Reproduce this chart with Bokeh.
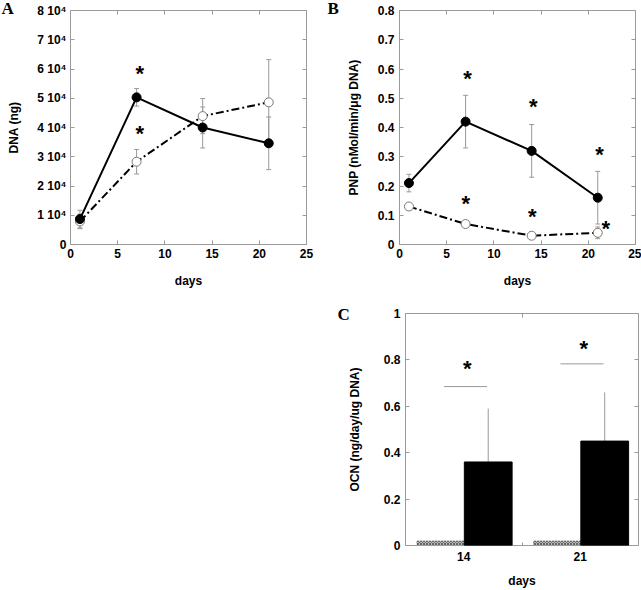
from bokeh.plotting import figure
from bokeh.models import (ColumnDataSource, Whisker, TeeHead, LinearAxis, FixedTicker,
                          Range1d, Spacer)
from bokeh.layouts import column, row
from bokeh.embed import file_html
from bokeh.resources import INLINE
from bokeh.core.properties import value

# ---------------- data ----------------
days = [1, 7, 14, 21]

dna_filled = [8700, 50300, 40000, 34600]
dna_filled_err = [3000, 3000, 7000, 9000]
dna_open = [7900, 28300, 43900, 48600]
dna_open_err = [2500, 4200, 6000, 14600]
dna_star_days = [7.34, 7.34]
dna_star_vals = [59300, 38600]
dna_ticks = [0, 10000, 20000, 30000, 40000, 50000, 60000, 70000, 80000]
dna_tick_labels = ["0", "1 10\u2074", "2 10\u2074", "3 10\u2074", "4 10\u2074",
                   "5 10\u2074", "6 10\u2074", "7 10\u2074", "8 10\u2074"]

pnp_filled = [0.21, 0.42, 0.32, 0.16]
pnp_filled_err = [0.03, 0.09, 0.09, 0.09]
pnp_open = [0.13, 0.07, 0.03, 0.04]
pnp_open_err = [0.006, 0.01, 0.006, 0.02]
pnp_star_days = [7.2, 7.03, 14.17, 14.06, 21.2, 21.84]
pnp_star_vals = [0.573, 0.147, 0.477, 0.104, 0.314, 0.062]
pnp_ticks = [0, 0.1, 0.2, 0.3, 0.4, 0.5, 0.6, 0.7, 0.8]
pnp_tick_labels = ["0", "0.1", "0.2", "0.3", "0.4", "0.5", "0.6", "0.7", "0.8"]

day_ticks = [0, 5, 10, 15, 20, 25]
day_tick_labels = ["0", "5", "10", "15", "20", "25"]

ocn_days = ["14", "21"]
ocn_control = [0.02, 0.02]
ocn_treated = [0.36, 0.45]
ocn_treated_err = [0.23, 0.21]
ocn_sig_level = [0.685, 0.783]
ocn_star_level = [0.77, 0.856]
ocn_ticks = [0, 0.2, 0.4, 0.6, 0.8, 1.0]
ocn_tick_labels = ["0", "0.2", "0.4", "0.6", "0.8", "1"]

panel_letters = ["A", "B", "C"]

# ---------------- style helpers ----------------
FONT = "Liberation Sans"
GRAY = "#9a9a9a"


def style_axis(ax, size="12px"):
    ax.axis_line_color = None
    ax.major_tick_in = 4
    ax.major_tick_out = 0
    ax.major_tick_line_color = GRAY
    ax.minor_tick_line_color = None
    ax.major_label_text_font = FONT
    ax.major_label_text_font_style = "bold"
    ax.major_label_text_font_size = size
    ax.major_label_text_color = "black"
    ax.axis_label_text_font = FONT
    ax.axis_label_text_font_style = "bold"
    ax.axis_label_text_font_size = "12px"
    ax.axis_label_text_color = "black"


def mirror_axis(p, ticks, side):
    ax = LinearAxis(ticker=FixedTicker(ticks=ticks, minor_ticks=[]))
    style_axis(ax)
    ax.major_label_overrides = {t: " " for t in ticks}
    ax.major_label_text_font_size = "1px"
    ax.major_label_standoff = 0
    p.add_layout(ax, side)
    return ax


def base_fig(width, height, bl, br, bt, bb, xr, yr):
    p = figure(width=width, height=height, x_range=xr, y_range=yr,
               output_backend="svg", toolbar_location=None, tools="",
               min_border_left=bl, min_border_right=br,
               min_border_top=bt, min_border_bottom=bb)
    p.outline_line_color = GRAY
    p.outline_line_width = 1
    p.grid.visible = False
    p.background_fill_color = "white"
    p.border_fill_color = "white"
    return p


def set_letter(p, text, offset, standoff):
    p.title.text = text
    p.title.align = "left"
    p.title.offset = offset
    p.title.standoff = standoff
    p.title.text_font = "Liberation Serif"
    p.title.text_font_style = "bold"
    p.title.text_font_size = "17px"
    p.title.text_color = "black"


def line_panel(p, ys_f, err_f, ys_o, err_o, sx, sy):
    for ys, err in ((ys_o, err_o), (ys_f, err_f)):
        src = ColumnDataSource(dict(x=days,
                                    up=[v + e for v, e in zip(ys, err)],
                                    lo=[v - e for v, e in zip(ys, err)]))
        w = Whisker(source=src, base="x", upper="up", lower="lo",
                    line_color=GRAY, line_width=1,
                    upper_head=TeeHead(size=5, line_color=GRAY, line_width=1),
                    lower_head=TeeHead(size=5, line_color=GRAY, line_width=1))
        w.level = "underlay"
        p.add_layout(w)
    p.line(days, ys_o, line_color="black", line_width=2, line_dash="8 3 2 3")
    p.scatter(days, ys_o, size=9, fill_color="white", line_color="#777777",
              line_width=1)
    p.line(days, ys_f, line_color="black", line_width=2)
    p.scatter(days, ys_f, size=9, fill_color="black", line_color="black")
    p.text(sx, sy, text=["*"] * len(sx), text_font=value(FONT),
           text_font_style="bold", text_font_size="22px", text_color="black",
           text_align="center", text_baseline="middle", y_offset=2)


# ---------------- panel A ----------------
pa = base_fig(320, 290, 70, 14, 10, 45, Range1d(0, 25), Range1d(0, 80000))
line_panel(pa, dna_filled, dna_filled_err, dna_open, dna_open_err,
           dna_star_days, dna_star_vals)
pa.xaxis.ticker = FixedTicker(ticks=day_ticks, minor_ticks=[])
pa.xaxis.major_label_overrides = dict(zip(day_ticks, day_tick_labels))
pa.yaxis.ticker = FixedTicker(ticks=dna_ticks, minor_ticks=[])
pa.yaxis.major_label_overrides = dict(zip(dna_ticks, dna_tick_labels))
for ax in pa.xaxis + pa.yaxis:
    style_axis(ax)
pa.xaxis.axis_label = "days"
pa.yaxis.axis_label = "DNA (ng)"
pa.xaxis.major_label_standoff = 4
pa.xaxis.axis_label_standoff = 13
pa.yaxis.major_label_standoff = 4
pa.yaxis.axis_label_standoff = 13
mirror_axis(pa, dna_ticks, "right")
mirror_axis(pa, day_ticks, "above")
set_letter(pa, panel_letters[0], -69, -22)

# ---------------- panel B ----------------
pb = base_fig(321, 290, 79, 6, 10, 45, Range1d(0, 25), Range1d(0, 0.8))
line_panel(pb, pnp_filled, pnp_filled_err, pnp_open, pnp_open_err,
           pnp_star_days, pnp_star_vals)
pb.xaxis.ticker = FixedTicker(ticks=day_ticks, minor_ticks=[])
pb.xaxis.major_label_overrides = dict(zip(day_ticks, day_tick_labels))
pb.yaxis.ticker = FixedTicker(ticks=pnp_ticks, minor_ticks=[])
pb.yaxis.major_label_overrides = dict(zip(pnp_ticks, pnp_tick_labels))
for ax in pb.xaxis + pb.yaxis:
    style_axis(ax)
pb.xaxis.axis_label = "days"
pb.yaxis.axis_label = "PNP (nMol/min/\u03bcg DNA)"
pb.xaxis.major_label_standoff = 4
pb.xaxis.axis_label_standoff = 13
pb.yaxis.major_label_standoff = 5
pb.yaxis.axis_label_standoff = 14
mirror_axis(pb, pnp_ticks, "right")
mirror_axis(pb, day_ticks, "above")
set_letter(pb, panel_letters[1], -72, -22)

# ---------------- panel C ----------------
pc = base_fig(321, 300, 85, 3, 23, 42, Range1d(0, 2), Range1d(0, 1))
centers = [i + 0.5 for i in range(len(ocn_days))]
ctrl_x = [c - 0.2 for c in centers]
trt_x = [c + 0.21 for c in centers]
pc.vbar(x=ctrl_x, top=ocn_control, width=0.41, fill_color="#b8b8b8",
        line_color=None, hatch_pattern="x", hatch_color="#666666",
        hatch_scale=3, hatch_weight=1)
pc.vbar(x=trt_x, top=ocn_treated, width=0.41, fill_color="black",
        line_color="black")
wsrc = ColumnDataSource(dict(x=trt_x, lo=ocn_treated,
                             up=[v + e for v, e in zip(ocn_treated, ocn_treated_err)]))
wc = Whisker(source=wsrc, base="x", upper="up", lower="lo", line_color=GRAY,
             line_width=1, upper_head=None, lower_head=None)
wc.level = "underlay"
pc.add_layout(wc)
pc.segment(x0=[c - 0.17 for c in centers], x1=[c + 0.2 for c in centers],
           y0=ocn_sig_level, y1=ocn_sig_level, line_color=GRAY, line_width=1)
pc.text([c + 0.03 for c in centers], ocn_star_level, text=["*"] * len(centers),
        text_font=value(FONT), text_font_style="bold", text_font_size="22px",
        text_color="black", text_align="center", text_baseline="middle",
        y_offset=2)
pc.xaxis.ticker = FixedTicker(ticks=centers, minor_ticks=[1.0])
pc.xaxis.major_label_overrides = dict(zip(centers, ocn_days))
pc.yaxis.ticker = FixedTicker(ticks=ocn_ticks, minor_ticks=[])
pc.yaxis.major_label_overrides = dict(zip(ocn_ticks, ocn_tick_labels))
for ax in pc.xaxis + pc.yaxis:
    style_axis(ax)
pc.xaxis.major_tick_in = 0
pc.xaxis.minor_tick_in = 3
pc.xaxis.minor_tick_out = 0
pc.xaxis.minor_tick_line_color = GRAY
pc.xaxis.axis_label = "days"
pc.yaxis.axis_label = "OCN (ng/day/ug DNA)"
pc.xaxis.major_label_standoff = 6
pc.xaxis.axis_label_standoff = 10
pc.yaxis.major_label_standoff = 5
pc.yaxis.axis_label_standoff = 19
mirror_axis(pc, ocn_ticks, "right")
mirror_axis(pc, [1.0], "above")
set_letter(pc, panel_letters[2], -68, -28)

layout = column(row(pa, pb), row(Spacer(width=320, height=300), pc))
open("out.html", "w").write(file_html(layout, INLINE))
